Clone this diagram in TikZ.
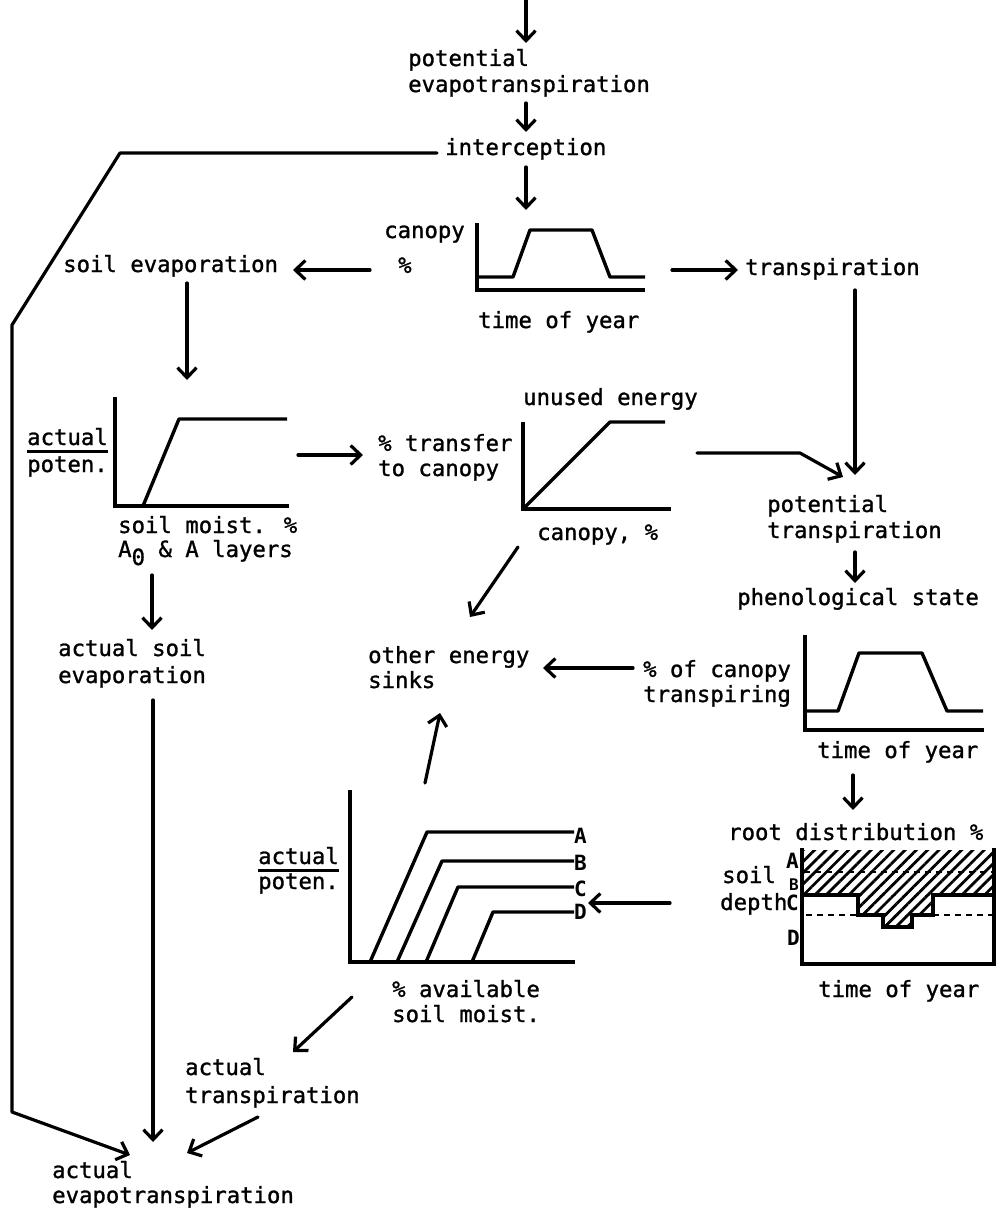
\documentclass[tikz,border=0pt]{standalone}
\usepackage{fontspec}
\newfontfamily\tw[FakeBold=1.2]{DejaVu Sans Mono}
\newfontfamily\twb{DejaVu Sans Mono Bold}
\usetikzlibrary{arrows.meta,patterns.meta}
\begin{document}
\begin{tikzpicture}[x=1pt,y=-1pt,
  txt/.style={font=\tw\fontsize{22.3}{26}\selectfont, inner sep=0pt, anchor=base west},
  lbl/.style={font=\twb\fontsize{21}{21}\selectfont, inner sep=0pt, anchor=base west},
  ln/.style={line width=3.2pt, line cap=round, line join=round},
  arr/.style={ln, -{Straight Barb[length=10pt,width=19pt]}},
  ax/.style={line width=3.4pt, line cap=butt, line join=miter},
  crv/.style={line width=3.4pt, line join=round, line cap=butt},
  ul/.style={line width=3pt},
  dsh/.style={line width=2.6pt, dash pattern=on 6pt off 5pt},
  hatch/.style={pattern={Lines[angle=45,distance=8pt,line width=2.8pt]}},
]
\useasboundingbox (0,0) rectangle (1002,1212);

% ---------- text nodes ----------
\node[txt] (pe1) at (408,66) {potential};
\node[txt] (pe2) at (408,92) {evapotranspiration};
\node[txt] (int) at (445,155) {interception};
\node[txt] (can1) at (384,238) {canopy};
\node[txt] (can2) at (398,273) {\%};
\node[txt] (toy1) at (478,328) {time of year};
\node[txt] (sev) at (63,272) {soil evaporation};
\node[txt] (tr) at (745,275) {transpiration};
\node[txt] (act1) at (27,445) {actual};
\node[txt] (pot1) at (27,472) {poten.};
\node[txt] (sm1) at (118,533) {soil moist. \%};
\node[txt] (sm2) at (118,557) {A\raisebox{-8pt}{0} \& A layers};
\node[txt] (tf1) at (378,451) {\% transfer};
\node[txt] (tf2) at (378,476) {to canopy};
\node[txt] (ue) at (523,405) {unused energy};
\node[txt] (cp) at (537,540) {canopy, \%};
\node[txt] (pt1) at (767,512) {potential};
\node[txt] (pt2) at (767,538) {transpiration};
\node[txt] (ph) at (737,605) {phenological state};
\node[txt] (oc1) at (643,677) {\% of canopy};
\node[txt] (oc2) at (643,702) {transpiring};
\node[txt] (toy2) at (817,758) {time of year};
\node[txt] (oe1) at (368,663) {other energy};
\node[txt] (oe2) at (368,688) {sinks};
\node[txt] (as1) at (58,656) {actual soil};
\node[txt] (as2) at (58,683) {evaporation};
\node[txt] (rd) at (728,840) {root distribution \%};
\node[txt] (sd1) at (722,883) {soil};
\node[txt] (sd2) at (720,910) {depth};
\node[txt] (toy3) at (818,997) {time of year};
\node[txt] (ap1) at (258,864) {actual};
\node[txt] (ap2) at (258,889) {poten.};
\node[txt] (av1) at (392,997) {\% available};
\node[txt] (av2) at (392,1022) {soil moist.};
\node[txt] (at1) at (185,1075) {actual};
\node[txt] (at2) at (185,1103) {transpiration};
\node[txt] (ae1) at (52,1178) {actual};
\node[txt] (ae2) at (52,1203) {evapotranspiration};

% underlines of "actual"
\draw[ul] ([yshift=-6pt]act1.south west) -- ([yshift=-6pt]act1.south east);
\draw[ul] ([yshift=-6pt]ap1.south west) -- ([yshift=-6pt]ap1.south east);

% ---------- canopy chart ----------
\draw[ax] (477,223) -- (477,290) -- (645,290);
\draw[crv] (477,277) -- (513,277) -- (530,230) -- (592,230) -- (610,277) -- (645,277);

% ---------- soil evaporation chart ----------
\draw[ax] (115,397) -- (115,506) -- (289,506);
\draw[crv] (143,506) -- (179,419) -- (287,419);

% ---------- unused energy chart ----------
\draw[ax] (523,422) -- (523,509) -- (671,509);
\draw[crv] (523,509) -- (610,422) -- (665,422);

% ---------- phenology chart ----------
\draw[ax] (805,635) -- (805,730) -- (984,730);
\draw[crv] (805,711) -- (838,711) -- (859,653) -- (922,653) -- (947,711) -- (983,711);

% ---------- A B C D chart ----------
\draw[ax] (350,790) -- (350,962) -- (575,962);
\draw[crv] (370,962) -- (427,832) -- (574,832);
\draw[crv] (397,962) -- (442,861) -- (574,861);
\draw[crv] (426,962) -- (458,887) -- (574,887);
\draw[crv] (472,962) -- (493,912) -- (574,912);
\node[lbl] (la) at (574,843) {A};
\node[lbl] (lb) at (574,870) {B};
\node[lbl] (lc) at (574,896) {C};
\node[lbl] (ld) at (574,919) {D};

% ---------- root distribution box ----------
\fill[hatch] (802,850) rectangle (994,895);
\fill[hatch] (858,895) rectangle (933,915);
\fill[hatch] (883,915) rectangle (912,927);
\draw[ax] (802,848) -- (802,964) -- (994,964) -- (994,848);
\draw[ax] (802,895) -- (858,895) -- (858,915) -- (883,915) -- (883,927)
          -- (912,927) -- (912,915) -- (933,915) -- (933,895) -- (994,895);
\draw[dsh] (804,872) -- (994,872);
\draw[dsh] (806,915) -- (858,915);
\draw[dsh] (933,915) -- (994,915);
\node[lbl] (ra) at (786,868) {A};
\node[lbl, font=\twb\fontsize{16}{16}\selectfont] (rb) at (789,890) {B};
\node[lbl] (rc) at (786,910) {C};
\node[lbl] (rdd) at (787,945) {D};

% ---------- connector end points ----------
\coordinate (top) at (526,0);
\coordinate (peT) at (526,43);
\coordinate (peB) at (526,103);
\coordinate (intT) at (526,132);
\coordinate (intB) at (526,167);
\coordinate (chT) at (526,210);
\coordinate (chL) at (370,270);
\coordinate (sevR) at (293,270);
\coordinate (chR) at (672,270);
\coordinate (trL) at (738,270);
\coordinate (trB) at (855,290);
\coordinate (ptT) at (855,475);
\coordinate (sevB) at (187,283);
\coordinate (sgT) at (187,380);
\coordinate (sgR) at (298,455);
\coordinate (tfL) at (363,455);
\coordinate (ugR) at (697,453);
\coordinate (ugK) at (800,453);
\coordinate (ptTL) at (843,477);
\coordinate (ptB) at (855,552);
\coordinate (phT) at (855,583);
\coordinate (ugB) at (518,547);
\coordinate (oeT) at (470,617);
\coordinate (ocL) at (633,668);
\coordinate (oeR) at (543,668);
\coordinate (abT) at (425,783);
\coordinate (oeB) at (440,713);
\coordinate (phB) at (853,775);
\coordinate (rdT) at (853,810);
\coordinate (rdL) at (670,903);
\coordinate (ldR) at (588,903);
\coordinate (sgB) at (152,575);
\coordinate (asT) at (152,630);
\coordinate (asB) at (153,700);
\coordinate (aeT) at (153,1142);
\coordinate (abB) at (352,997);
\coordinate (atT) at (293,1052);
\coordinate (atB) at (258,1117);
\coordinate (aeTR) at (187,1153);
\coordinate (intL) at (437,153);
\coordinate (k1) at (120,153);
\coordinate (k2) at (12,325);
\coordinate (k3) at (12,1112);
\coordinate (aeTL) at (130,1155);

% ---------- connectors ----------
\draw[arr] (top) -- (peT);
\draw[arr] (peB) -- (intT);
\draw[arr] (intB) -- (chT);
\draw[arr] (chL) -- (sevR);
\draw[arr] (chR) -- (trL);
\draw[arr] (trB) -- (ptT);
\draw[arr] (sevB) -- (sgT);
\draw[arr] (sgR) -- (tfL);
\draw[arr] (ugR) -- (ugK) -- (ptTL);
\draw[arr] (ptB) -- (phT);
\draw[arr] (ugB) -- (oeT);
\draw[arr] (ocL) -- (oeR);
\draw[arr] (abT) -- (oeB);
\draw[arr] (phB) -- (rdT);
\draw[arr] (rdL) -- (ldR);
\draw[arr] (sgB) -- (asT);
\draw[arr] (asB) -- (aeT);
\draw[arr] (abB) -- (atT);
\draw[arr] (atB) -- (aeTR);
\draw[arr] (intL) -- (k1) -- (k2) -- (k3) -- (aeTL);
\end{tikzpicture}
\end{document}
